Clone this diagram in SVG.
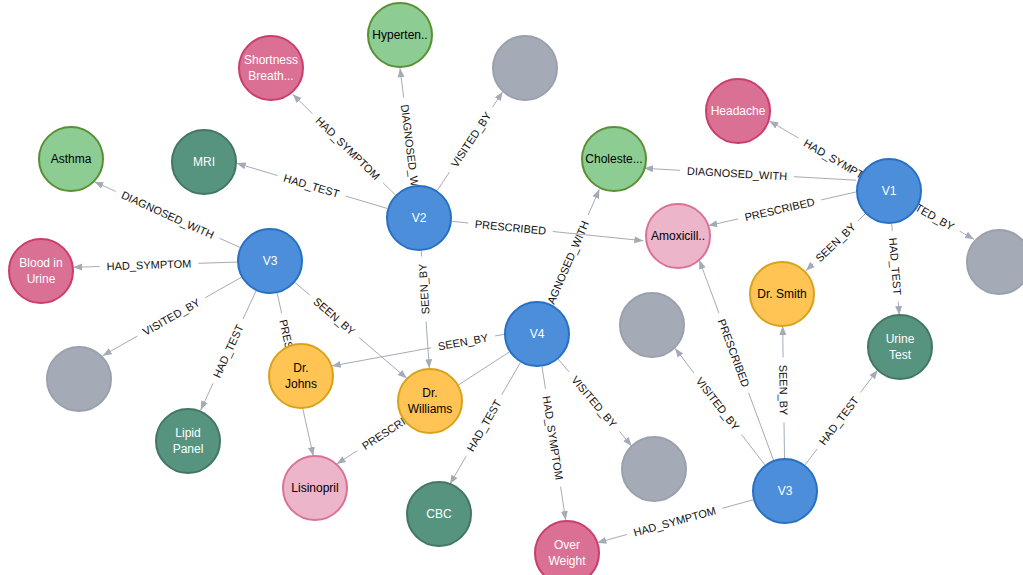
<svg xmlns="http://www.w3.org/2000/svg" width="1023" height="575" viewBox="0 0 1023 575">
<style>
.bg{fill:#ffffff}
.e path{fill:none;stroke:#A5ABB6;stroke-width:1}
.e path.a{marker-end:url(#arr)}
.e text{font-family:"Liberation Sans",Arial,sans-serif;font-size:11px;fill:#111;text-anchor:middle;dominant-baseline:central}
.n circle{stroke-width:2}
.n text{font-family:"Liberation Sans",Arial,sans-serif;font-size:12px;text-anchor:middle;dominant-baseline:central}
.visit circle{fill:#4C8EDA;stroke:#2870C2}
.gray circle{fill:#A5ABB6;stroke:#9AA1AC}
.sym circle{fill:#DA7194;stroke:#CC3C6C}
.diag circle{fill:#8DCC93;stroke:#5A8F34}
.test circle{fill:#569480;stroke:#447666}
.med circle{fill:#ECB5C9;stroke:#DA7298}
.doc circle{fill:#FFC454;stroke:#D9A21B}
.visit text,.sym text,.test text{fill:#ffffff}
.diag text,.med text,.doc text{fill:#000000}
</style>
<defs>
<marker id="arr" markerUnits="userSpaceOnUse" markerWidth="10" markerHeight="8" refX="9" refY="4" orient="auto">
<path d="M0,0.5 L9,4 L0,7.5 Z" fill="#A5ABB6"/>
</marker>
</defs>
<rect class="bg" x="0" y="0" width="1023" height="575"/>
<g id="connectors">
<g class="e"><path d="M395.4,194.9 L383.1,182.9"/><path class="a" d="M312.4,113.6 L292.7,94.3"/><text transform="translate(347.8 148.2) rotate(44.4)">HAD_SYMPTOM</text></g>
<g class="e"><path class="a" d="M403.7,97.6 L400,68.3"/><text transform="translate(410.9 154.1) rotate(82.8)">DIAGNOSED_WITH</text></g>
<g class="e"><path d="M437.2,190.5 L449.5,172.0"/><path class="a" d="M492.6,107.0 L502.7,91.7"/><text transform="translate(471.0 139.5) rotate(-56.5)">VISITED_BY</text></g>
<g class="e"><path d="M387.4,208.5 L345.5,196.0"/><path class="a" d="M277.5,175.5 L236.7,163.3"/><text transform="translate(311.5 185.8) rotate(16.7)">HAD_TEST</text></g>
<g class="e"><path d="M451.8,221.3 L468.2,223.0"/><path class="a" d="M552.8,231.5 L643.3,240.7"/><text transform="translate(510.5 227.3) rotate(5.8)">PRESCRIBED</text></g>
<g class="e"><path d="M421.3,250.9 L421.6,256.6"/><path class="a" d="M426.1,321.5 L429.3,368.3"/><text transform="translate(423.9 289.0) rotate(-93.9)">SEEN_BY</text></g>
<g class="e"><path d="M239.9,247.4 L219.6,238.3"/><path class="a" d="M115.7,191.4 L94.3,181.7"/><text transform="translate(167.7 214.8) rotate(24.3)">DIAGNOSED_WITH</text></g>
<g class="e"><path d="M237.0,262.1 L198.4,263.3"/><path class="a" d="M99.5,266.5 L73.3,267.3"/><text transform="translate(149.0 264.9) rotate(-1.8)">HAD_SYMPTOM</text></g>
<g class="e"><path d="M241.3,277.3 L205.2,297.7"/><path class="a" d="M137.3,336.1 L102.7,355.7"/><text transform="translate(171.3 316.9) rotate(-29.5)">VISITED_BY</text></g>
<g class="e"><path d="M256.1,290.9 L243.0,319.0"/><path class="a" d="M213.1,383.3 L200.7,410"/><text transform="translate(228.1 351.1) rotate(-65.1)">HAD_TEST</text></g>
<g class="e"><path d="M277.2,293.2 L281.6,313.0"/><path class="a" d="M300.0,396.1 L313.3,456"/><text transform="translate(290.8 354.5) rotate(77.5)">PRESCRIBED</text></g>
<g class="e"><path d="M295.0,282.5 L309.8,295.1"/><path class="a" d="M359.1,337.5 L406.7,378.3"/><text transform="translate(334.4 316.3) rotate(40.6)">SEEN_BY</text></g>
<g class="e"><path class="a" d="M588.2,215.0 L599.3,189.3"/><text transform="translate(565.7 267.4) rotate(-66.7)">DIAGNOSED_WITH</text></g>
<g class="e"><path d="M504.5,334.3 L495.0,336.0"/><path class="a" d="M431.1,347.8 L331.7,366"/><text transform="translate(463.0 341.9) rotate(-10.4)">SEEN_BY</text></g>
<g class="e"><path d="M509.3,352.0 L428.6,404.3"/><path class="a" d="M357.3,450.6 L336.7,464"/><text transform="translate(393.0 427.5) rotate(-33.0)">PRESCRIBED</text></g>
<g class="e"><path d="M520.4,362.5 L501.7,394.9"/><path class="a" d="M466.1,456.3 L450,484"/><text transform="translate(483.9 425.6) rotate(-59.9)">HAD_TEST</text></g>
<g class="e"><path d="M542.0,366.6 L545.5,388.9"/><path class="a" d="M560.6,486.7 L565.7,520"/><text transform="translate(553.0 437.8) rotate(81.2)">HAD_SYMPTOM</text></g>
<g class="e"><path d="M558.3,359.2 L569.0,371.9"/><path class="a" d="M619.4,431.4 L631.7,446"/><text transform="translate(594.2 401.6) rotate(49.8)">VISITED_BY</text></g>
<g class="e"><path class="a" d="M798.6,138.1 L769.3,121"/><text transform="translate(841.3 163.1) rotate(30.3)">HAD_SYMPTOM</text></g>
<g class="e"><path d="M856.1,180.2 L794.0,176.7"/><path class="a" d="M680.1,170.3 L644,168.3"/><text transform="translate(737.0 173.5) rotate(3.2)">DIAGNOSED_WITH</text></g>
<g class="e"><path d="M856.8,191.8 L821.1,199.9"/><path class="a" d="M738.2,218.9 L708.3,225.7"/><text transform="translate(779.6 209.4) rotate(-12.9)">PRESCRIBED</text></g>
<g class="e"><path d="M865.2,213.9 L857.5,221.3"/><path class="a" d="M813.5,263.5 L806,270.7"/><text transform="translate(835.5 242.4) rotate(-43.8)">SEEN_BY</text></g>
<g class="e"><path d="M891.7,223.9 L892.3,231.0"/><path class="a" d="M898.2,301.7 L899.3,315"/><text transform="translate(895.3 266.4) rotate(85.3)">HAD_TEST</text></g>
<g class="e"><path class="a" d="M959.6,231.1 L974,239.3"/><text transform="translate(925.7 211.8) rotate(29.6)">VISITED_BY</text></g>
<g class="e"><path d="M773.5,460.1 L748.6,392.8"/><path class="a" d="M719.0,313.2 L699.3,260"/><text transform="translate(733.8 353.0) rotate(69.6)">PRESCRIBED</text></g>
<g class="e"><path d="M764.9,464.9 L741.5,434.6"/><path class="a" d="M693.9,372.9 L675,348.3"/><text transform="translate(717.7 403.7) rotate(52.4)">VISITED_BY</text></g>
<g class="e"><path d="M784.5,458.0 L784.0,422.5"/><path class="a" d="M783.1,357.5 L782.7,326"/><text transform="translate(783.6 390.0) rotate(89.2)">SEEN_BY</text></g>
<g class="e"><path d="M805.1,464.8 L817.2,448.9"/><path class="a" d="M860.4,392.5 L877.7,370"/><text transform="translate(838.8 420.7) rotate(-52.5)">HAD_TEST</text></g>
<g class="e"><path d="M753.2,499.8 L722.3,508.3"/><path class="a" d="M626.9,534.5 L597.3,542.7"/><text transform="translate(674.6 521.4) rotate(-15.4)">HAD_SYMPTOM</text></g>
</g>
<g id="n-v2" class="n visit"><circle cx="419" cy="218" r="32"/><text x="419" y="218">V2</text></g>
<g id="n-v3a" class="n visit"><circle cx="270" cy="261" r="32"/><text x="270" y="261">V3</text></g>
<g id="n-v4" class="n visit"><circle cx="537" cy="334" r="32"/><text x="537" y="334">V4</text></g>
<g id="n-v1" class="n visit"><circle cx="889" cy="191" r="32"/><text x="889" y="191">V1</text></g>
<g id="n-v3b" class="n visit"><circle cx="785" cy="491" r="32"/><text x="785" y="491">V3</text></g>
<g id="n-hyp" class="n diag"><circle cx="400" cy="35" r="32"/><text x="400" y="35">Hyperten..</text></g>
<g id="n-short" class="n sym"><circle cx="271" cy="68" r="32"/><text x="271" y="60">Shortness</text><text x="271" y="76">Breath...</text></g>
<g id="n-gray1" class="n gray"><circle cx="525" cy="68" r="32"/></g>
<g id="n-mri" class="n test"><circle cx="204" cy="162" r="32"/><text x="204" y="162">MRI</text></g>
<g id="n-asthma" class="n diag"><circle cx="71" cy="159" r="32"/><text x="71" y="159">Asthma</text></g>
<g id="n-blood" class="n sym"><circle cx="41" cy="271" r="32"/><text x="41" y="263">Blood in</text><text x="41" y="279">Urine</text></g>
<g id="n-gray2" class="n gray"><circle cx="79" cy="379" r="32"/></g>
<g id="n-lipid" class="n test"><circle cx="188" cy="441" r="32"/><text x="188" y="433">Lipid</text><text x="188" y="449">Panel</text></g>
<g id="n-johns" class="n doc"><circle cx="301" cy="376" r="32"/><text x="301" y="368">Dr.</text><text x="301" y="384">Johns</text></g>
<g id="n-williams" class="n doc"><circle cx="430" cy="401" r="32"/><text x="430" y="393">Dr.</text><text x="430" y="409">Williams</text></g>
<g id="n-lisinopril" class="n med"><circle cx="315" cy="488" r="32"/><text x="315" y="488">Lisinopril</text></g>
<g id="n-cbc" class="n test"><circle cx="439" cy="514" r="32"/><text x="439" y="514">CBC</text></g>
<g id="n-over" class="n sym"><circle cx="567" cy="553" r="32"/><text x="567" y="545">Over</text><text x="567" y="561">Weight</text></g>
<g id="n-gray3" class="n gray"><circle cx="654" cy="469" r="32"/></g>
<g id="n-gray4" class="n gray"><circle cx="652" cy="325" r="32"/></g>
<g id="n-smith" class="n doc"><circle cx="782" cy="294" r="32"/><text x="782" y="294">Dr. Smith</text></g>
<g id="n-urine" class="n test"><circle cx="900" cy="347" r="32"/><text x="900" y="339">Urine</text><text x="900" y="355">Test</text></g>
<g id="n-amox" class="n med"><circle cx="678" cy="236" r="32"/><text x="678" y="236">Amoxicill..</text></g>
<g id="n-chol" class="n diag"><circle cx="614" cy="159" r="32"/><text x="614" y="159">Choleste...</text></g>
<g id="n-head" class="n sym"><circle cx="738" cy="111" r="32"/><text x="738" y="111">Headache</text></g>
<g id="n-gray5" class="n gray"><circle cx="999" cy="262" r="32"/></g>
</svg>
